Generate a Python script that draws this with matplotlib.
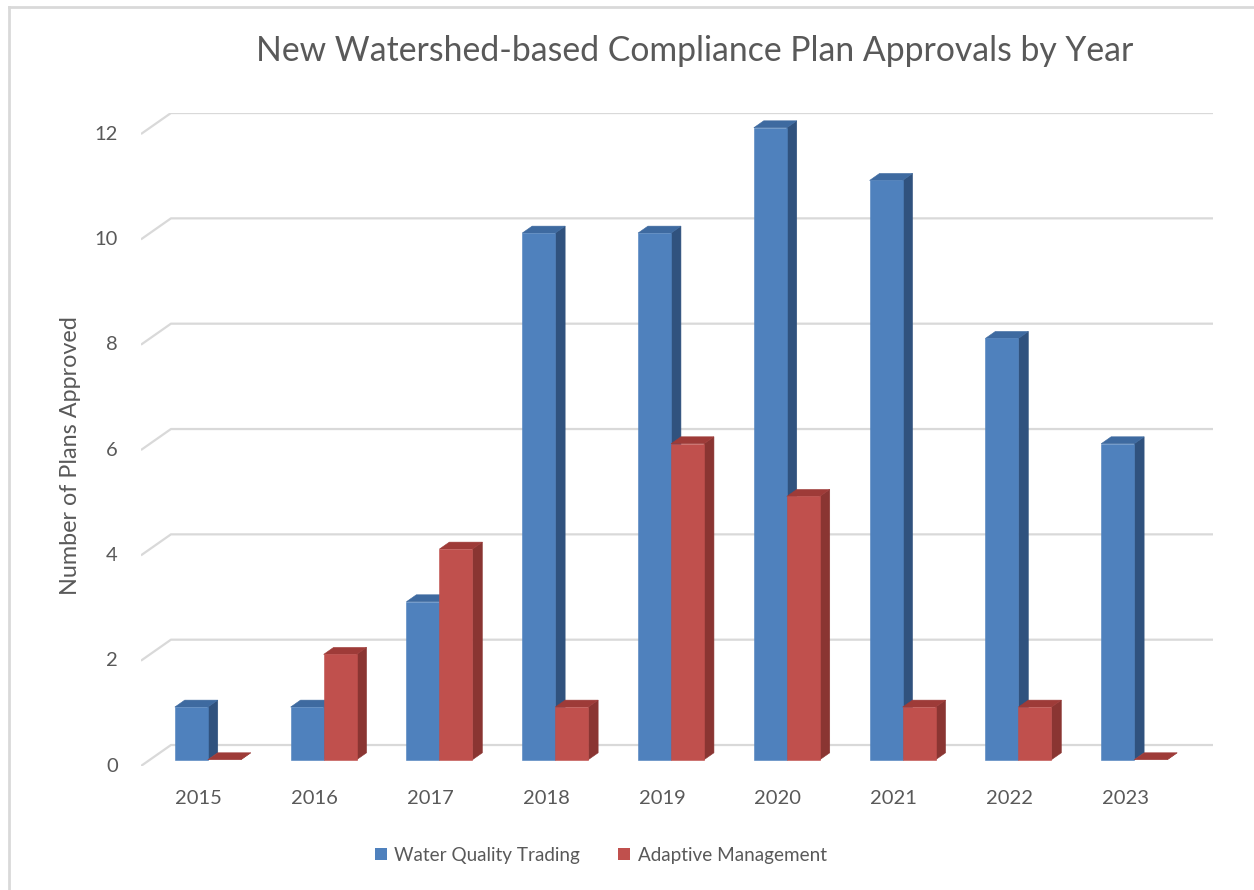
import matplotlib.pyplot as plt
from matplotlib.patches import Polygon
from matplotlib.lines import Line2D

years = ['2015', '2016', '2017', '2018', '2019', '2020', '2021', '2022', '2023']
water_quality_trading = [1, 1, 3, 10, 10, 12, 11, 8, 6]
adaptive_management = [0, 2, 4, 1, 6, 5, 1, 1, 0]
y_ticks = [0, 2, 4, 6, 8, 10, 12]

plt.rcParams['font.family'] = ['Lato', 'DejaVu Sans']
text_col = '#595959'

# face colours: front, top, side
blue = ('#4f81bd', '#3e6aa0', '#30527e')
red = ('#c0504d', '#9e3b38', '#8a3532')

fig = plt.figure(figsize=(12.54, 8.90), dpi=100)
ax = fig.add_axes([0.1124, 0.1393, 0.855, 0.7337])

# depth of the floor / back wall in data units
ddx, ddy = 0.259, 0.399
# bars sit a bit behind the front edge and have their own depth
off_x, off_y = 0.3 * ddx, 0.3 * ddy
bdx, bdy = 0.33 * ddx, 0.33 * ddy
bw = 0.285

n = len(years)
x_left, x_right = -0.5, n - 0.5

# back wall gridlines with the diagonal on the side wall
for v in y_ticks:
    ax.plot([x_left, x_left + ddx, x_right + ddx], [v, v + ddy, v + ddy],
            color='#d9d9d9', lw=1.6, zorder=1, solid_capstyle='butt')
    ax.text(x_left - 0.2, v, str(v), ha='right', va='center',
            fontsize=14.5, color=text_col)


def face(pts, col, z):
    ax.add_patch(Polygon(pts, closed=True, fc=col, ec=col, lw=0.4, zorder=z))


def bar3d(x0, h, cols, z):
    x0 = x0 + off_x
    y0 = off_y
    x1 = x0 + bw
    front, top, side = cols
    face([(x1, y0), (x1 + bdx, y0 + bdy), (x1 + bdx, y0 + h + bdy), (x1, y0 + h)], side, z)
    face([(x0, y0 + h), (x1, y0 + h), (x1 + bdx, y0 + h + bdy), (x0 + bdx, y0 + h + bdy)], top, z)
    if h > 0:
        face([(x0, y0), (x1, y0), (x1, y0 + h), (x0, y0 + h)], front, z)


for i in range(n):
    z = 3 + i * 2
    bar3d(i - bw, water_quality_trading[i], blue, z)
    bar3d(i, adaptive_management[i], red, z + 1)
    ax.text(i, -0.62, years[i], ha='center', va='center', fontsize=14.5, color=text_col)

ax.set_xlim(x_left, x_right + ddx)
ax.set_ylim(0, 12 + ddy)
ax.axis('off')

fig.text(0.554, 0.943, 'New Watershed-based Compliance Plan Approvals by Year',
         ha='center', va='center', fontsize=24.3, color=text_col)
fig.text(0.056, 0.488, 'Number of Plans Approved', rotation=90,
         ha='center', va='center', fontsize=16.8, color=text_col)

handles = [Polygon([[0, 0]], fc=blue[0]), Polygon([[0, 0]], fc=red[0])]
fig.legend(handles, ['Water Quality Trading', 'Adaptive Management'],
           loc='center', bbox_to_anchor=(0.479, 0.039), ncol=2, frameon=False,
           fontsize=13.6, handlelength=0.65, handleheight=0.65, handletextpad=0.4,
           columnspacing=2.0, labelcolor=text_col)

# chart border (only left and top edges are inside the picture)
fig.add_artist(Line2D([0.0075, 0.0075], [0, 0.9925], color='#d9d9d9', lw=2))
fig.add_artist(Line2D([0.0075, 1], [0.9925, 0.9925], color='#d9d9d9', lw=2))

fig.savefig('out.png', dpi=100)
